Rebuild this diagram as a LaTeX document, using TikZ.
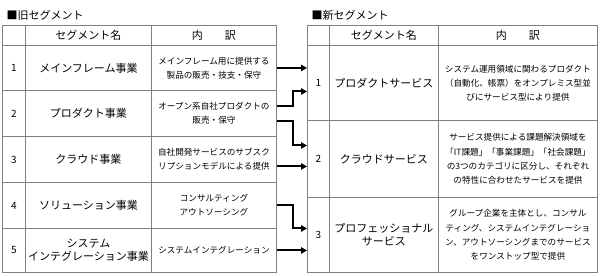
\documentclass[tikz,border=0pt]{standalone}
\usepackage{fontspec}
\setmainfont{Noto Sans CJK JP}
\usetikzlibrary{arrows.meta, positioning, calc}

\begin{document}
\begin{tikzpicture}[
    x=1pt, y=-1pt,
    every node/.style={font=\fontsize{11}{13}\selectfont},
    cell/.style 2 args={draw=gridcolor, line width=0.9pt, anchor=north west,
        inner sep=0pt, align=center, minimum width=#1pt, minimum height=#2pt},
    body/.style={font=\fontsize{8.6}{14.2}\selectfont},
    num/.style={font=\fontsize{10}{12}\selectfont},
    segarrow/.style={-{Triangle[length=6pt, width=6.5pt]}, line width=2pt, black},
]

\definecolor{gridcolor}{HTML}{808080}   % table rules

\useasboundingbox (0,0) rectangle (600,276);

% ================================================================
%   old segments   columns at x = 2, 25, 151 (right edge 276)
%   new segments   columns at x = 307, 329, 438 (right edge 597)
%   header row from y = 24.5 to 45
% ================================================================

% ---------------------------------------------------------------- old table
\node[anchor=west] (oldtitle) at (3, 15) {■旧セグメント};

\node[cell={23}{20.5}]  (oihead) at (2, 24.5) {};
\node[cell={126}{20.5}] (onhead) at (25, 24.5) {セグメント名};
\node[cell={125}{20.5}] (ochead) at (151, 24.5) {内\hspace{2em}訳};

\foreach \n/\y/\h/\name/\body in {
    1/45/45/{メインフレーム事業}/{メインフレーム用に提供する\\製品の販売・技支・保守},
    2/90/46/{プロダクト事業}/{オープン系自社プロダクトの\\販売・保守},
    3/136/46/{クラウド事業}/{自社開発サービスのサブスク\\リプションモデルによる提供},
    4/182/46/{ソリューション事業}/{コンサルティング\\アウトソーシング},
    5/228/44/{システム\\インテグレーション事業}/{システムインテグレーション}} {
    \node[cell={23}{\h}, num]  (oi\n) at (2, \y) {\n};
    \node[cell={126}{\h}]      (on\n) at (25, \y) {\name};
    \node[cell={125}{\h}, body] (oc\n) at (151, \y) {\body};
}

% ---------------------------------------------------------------- new table
\node[anchor=west] (newtitle) at (308, 15) {■新セグメント};

\node[cell={22}{20.5}]  (nihead) at (307, 24.5) {};
\node[cell={109}{20.5}] (nnhead) at (329, 24.5) {セグメント名};
\node[cell={159}{20.5}] (nchead) at (438, 24.5) {内\hspace{2em}訳};

\foreach \n/\y/\h/\name/\body in {
    1/45/75/{プロダクトサービス}/{システム運用領域に関わるプロダクト\\（自動化、帳票）をオンプレミス型並\\びにサービス型により提供},
    2/120/77/{クラウドサービス}/{サービス提供による課題解決領域を\\「IT課題」「事業課題」「社会課題」\\の3つのカテゴリに区分し、それぞれ\\の特性に合わせたサービスを提供},
    3/197/75/{プロフェッショナル\\サービス}/{グループ企業を主体とし、コンサル\\ティング、システムインテグレーショ\\ン、アウトソーシングまでのサービス\\をワンストップ型で提供}} {
    \node[cell={22}{\h}, num]   (ni\n) at (307, \y) {\n};
    \node[cell={109}{\h}]       (nn\n) at (329, \y) {\name};
    \node[cell={159}{\h}, body] (nc\n) at (438, \y) {\body};
}

% ---------------------------------------------------------------- mapping
\draw[segarrow] (oc1.east) -- (oc1.east -| ni1.west);
\draw[segarrow] ([yshift=7pt]oc2.east) -- ++(16,0) |- ([yshift=-8.5pt]ni1.west);
\draw[segarrow] ([yshift=-8pt]oc2.east) -- ++(16,0) |- ([yshift=13.5pt]ni2.west);
\draw[segarrow] ([yshift=-7pt]oc3.east) -- ([yshift=-7pt]oc3.east -| ni2.west);
\draw[segarrow] (oc4.east) -- ++(16,0) |- ([yshift=6.5pt]ni3.west);
\draw[segarrow] (oc5.east) -- (oc5.east -| ni3.west);

\end{tikzpicture}
\end{document}
